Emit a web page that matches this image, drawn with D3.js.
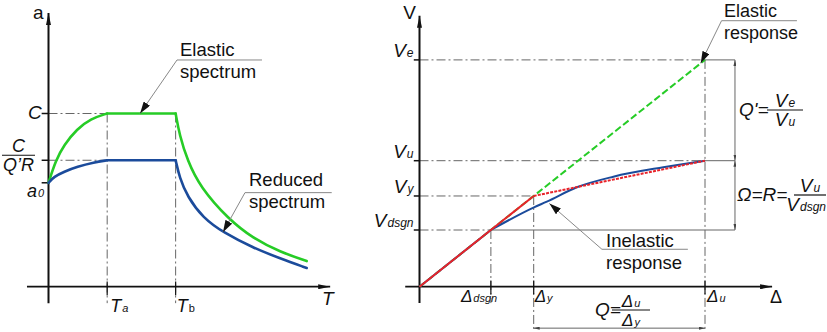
<!DOCTYPE html>
<html>
<head>
<meta charset="utf-8">
<script src="https://cdn.jsdelivr.net/npm/d3@7"></script>
<style>
  body { margin: 0; background: #fff; }
  text { font-family: "Liberation Sans", Arial, sans-serif; fill: #111; }
</style>
</head>
<body>
<div id="viz"></div>
<script>
var width = 827;
var height = 332;

// left chart: acceleration spectrum (T, a)
var periodTicks = [0.6, 1.3];            // Ta, Tb
var periodTickLabels = [["T", "a"], ["T", "b"]];
var accLevels = [1.0, 0.73, 0.6];        // C, C/(Q'R), a0
var elasticRise = [[0, 0.6], [0.074, 0.73], [0.16, 0.82], [0.29, 0.91], [0.43, 0.97], [0.6, 1.0]];
var elasticDecay = [[1.3, 1.0], [1.34, 0.875], [1.42, 0.73], [1.55, 0.575], [1.84, 0.39], [2.09, 0.28], [2.37, 0.2], [2.64, 0.148]];
var reducedRise = [[0, 0.6], [0.056, 0.635], [0.158, 0.664], [0.294, 0.693], [0.465, 0.718], [0.6, 0.73]];
var reducedDecay = [[1.3, 0.73], [1.34, 0.63], [1.42, 0.52], [1.58, 0.397], [1.79, 0.312], [2.09, 0.225], [2.37, 0.163], [2.64, 0.108]];

// right chart: base shear vs displacement
var dispTicks = [25, 40, 100];           // dsgn, y, u
var dispTickLabels = [["Δ", "dsgn"], ["Δ", "y"], ["Δ", "u"]];
var shearLevels = [180, 100, 72, 45];    // Ve, Vu, Vy, Vdsgn
var shearLabels = [["V", "e"], ["V", "u"], ["V", "y"], ["V", "dsgn"]];
var elasticResp = [[0, 0], [100, 180]];
var bilinearResp = [[0, 0], [40, 72], [100, 100]];
var inelasticResp = [[0, 0], [25, 45], [40.1, 63], [44.6, 67.5], [55.1, 78.9], [67.9, 87.3], [85.4, 94.8], [100, 100]];

var green = "#26cc26", blue = "#1b4b9b", red = "#e8232a", grey = "#666", lead = "#888";
var dashDot = "9,3,2,3";

var svg = d3.select("#viz").append("svg")
  .attr("width", width)
  .attr("height", height);

var defs = svg.append("defs");
function marker(id, len, w, col) {
  defs.append("marker")
    .attr("id", id)
    .attr("markerUnits", "userSpaceOnUse")
    .attr("viewBox", "0 0 " + len + " " + (w * 2))
    .attr("refX", len).attr("refY", w)
    .attr("markerWidth", len).attr("markerHeight", w * 2)
    .attr("orient", "auto")
    .append("path")
    .attr("d", "M0,0L" + len + "," + w + "L0," + (w * 2) + "Z")
    .attr("fill", col);
}
marker("axisArrow", 12, 2.5, "#111");
marker("leadArrow", 12, 3.8, "#111");
marker("dimArrow", 6, 1.5, "#444");

function line(g, x1, y1, x2, y2, col, w, dash) {
  return g.append("line")
    .attr("x1", x1).attr("y1", y1).attr("x2", x2).attr("y2", y2)
    .attr("stroke", col).attr("stroke-width", w)
    .attr("stroke-dasharray", dash || null);
}

// symbol with subscript sitting on the baseline
function sym(g, x, y, parts, anchor, size, subItalic) {
  var t = g.append("text")
    .attr("x", x).attr("y", y)
    .attr("text-anchor", anchor || "start")
    .style("font-size", (size || 18) + "px")
    .style("font-style", "italic");
  t.append("tspan").text(parts[0]);
  if (parts[1]) {
    t.append("tspan")
      .style("font-size", Math.round((size || 18) * 0.62) + "px")
      .style("font-style", subItalic === false ? "normal" : "italic")
      .attr("dx", 1)
      .text(parts[1]);
  }
  return t;
}

function frac(g, x1, x2, y, num, den, size, anchor) {
  line(g, x1, y, x2, y, "#111", 1.2);
  var cx = anchor == "end" ? x2 : (x1 + x2) / 2;
  sym(g, (x1 + x2) / 2, y - 3, num, "middle", size);
  sym(g, cx, y + 16, den, anchor || "middle", size);
}

function annot(g, lines, x, y, size) {
  lines.forEach(function(s, i) {
    g.append("text")
      .attr("x", x).attr("y", y + i * 21.5)
      .style("font-size", size + "px")
      .text(s);
  });
}

//////////////// left chart
var xL = d3.scaleLinear().domain([0, 1]).range([48.5, 146.3]);
var yL = d3.scaleLinear().domain([0, 1]).range([286.7, 113.5]);
var left = svg.append("g");

// guide lines
line(left, xL(0), yL(accLevels[0]), xL(periodTicks[0]), yL(accLevels[0]), grey, 1, dashDot);
line(left, xL(0), yL(accLevels[1]), xL(periodTicks[0]), yL(accLevels[1]), grey, 1, dashDot);
periodTicks.forEach(function(t) {
  line(left, xL(t), yL(1), xL(t), yL(-0.095), grey, 1, dashDot);
  line(left, xL(t), yL(0.03), xL(t), yL(-0.05), "#111", 1.2);
});
accLevels.forEach(function(a) {
  line(left, xL(-0.07), yL(a), xL(0), yL(a), "#111", 1.5);
});

// axes
line(left, xL(0), yL(-0.095), xL(0), yL(1.58), "#111", 2).attr("marker-end", "url(#axisArrow)");
line(left, xL(-0.22), yL(0), xL(2.88), yL(0), "#111", 1.8).attr("marker-end", "url(#axisArrow)");

// spectra
var lineL = d3.line().x(function(d) { return xL(d[0]); }).y(function(d) { return yL(d[1]); });
var curveL = d3.line().curve(d3.curveBasis).x(function(d) { return xL(d[0]); }).y(function(d) { return yL(d[1]); });
[[elasticRise, elasticDecay, green], [reducedRise, reducedDecay, blue]].forEach(function(c) {
  var rise = c[0], decay = c[1];
  var plateau = [rise[rise.length - 1], decay[0]];
  left.append("path").attr("d", curveL(rise));
  left.append("path").attr("d", lineL(plateau));
  left.append("path").attr("d", curveL(decay));
  left.selectAll("path:not([stroke])")
    .attr("fill", "none").attr("stroke", c[2]).attr("stroke-width", 2.6)
    .attr("stroke-linecap", "round").attr("stroke-linejoin", "round");
});

// labels
left.append("text").attr("x", 33).attr("y", 19).style("font-size", "19px").text("a");
sym(left, 322, 305, ["T"], "start", 19);
sym(left, xL(periodTicks[0]) + 3, 312, periodTickLabels[0], "start", 18);
sym(left, xL(periodTicks[1]) + 1, 312, periodTickLabels[1], "start", 18, false);
sym(left, xL(-0.07), yL(accLevels[0]) + 5, ["C"], "end", 19);
frac(left, 2, 35, yL(accLevels[1]) - 5, ["C"], ["Q’R"], 18);
sym(left, 27, yL(accLevels[2]) + 14, ["a", "0"], "start", 18);

// call-outs
line(left, xL(1.314), yL(1.309), xL(2.183), yL(1.309), lead, 1);
line(left, xL(1.314), yL(1.309), xL(0.936), yL(1.0), lead, 1).attr("marker-end", "url(#leadArrow)");
annot(left, ["Elastic", "spectrum"], 180, 56, 18.5);
line(left, xL(2.009), yL(0.543), xL(2.896), yL(0.543), lead, 1);
line(left, xL(2.009), yL(0.543), xL(1.784), yL(0.315), lead, 1).attr("marker-end", "url(#leadArrow)");
annot(left, ["Reduced", "spectrum"], 249, 186, 18.5);

//////////////// right chart
var xR = d3.scaleLinear().domain([0, 100]).range([419.5, 705]);
var yR = d3.scaleLinear().domain([0, 100]).range([286.7, 160.7]);
var right = svg.append("g");
var dimX = 110.5, dimY = -32.9;

// guide lines
var vTo = [dispTicks[2], dispTicks[2], dispTicks[1], dispTicks[0]];
shearLevels.forEach(function(v, i) {
  line(right, xR(-2), yR(v), xR(0), yR(v), "#111", 1.5);
  line(right, xR(0), yR(v), xR(vTo[i]), yR(v), grey, 1, dashDot);
  if (i != 2) line(right, xR(vTo[i]), yR(v), xR(dimX), yR(v), grey, 1);
});
line(right, xR(dispTicks[0]), yR(shearLevels[3]), xR(dispTicks[0]), yR(-13), grey, 1, dashDot);
line(right, xR(dispTicks[1]), yR(shearLevels[2]), xR(dispTicks[1]), yR(-34.4), grey, 1, dashDot);
line(right, xR(dispTicks[2]), yR(shearLevels[0]), xR(dispTicks[2]), yR(-34.4), grey, 1, dashDot);
dispTicks.forEach(function(d) {
  line(right, xR(d), yR(5), xR(d), yR(-6), "#111", 1.2);
});

// dimension lines
line(right, xR(dimX), yR(shearLevels[0]), xR(dimX), yR(shearLevels[3]), grey, 1);
[[shearLevels[1], shearLevels[0]], [shearLevels[1], shearLevels[3]]].forEach(function(p) {
  var m = (yR(p[0]) + yR(p[1])) / 2;
  line(right, xR(dimX), m, xR(dimX), yR(p[0]), "none", 1).attr("marker-end", "url(#dimArrow)");
  line(right, xR(dimX), m, xR(dimX), yR(p[1]), "none", 1).attr("marker-end", "url(#dimArrow)");
});
line(right, xR(dispTicks[1]), yR(dimY), xR(dispTicks[2]), yR(dimY), grey, 1);
var mx = (xR(dispTicks[1]) + xR(dispTicks[2])) / 2;
line(right, mx, yR(dimY), xR(dispTicks[1]), yR(dimY), "none", 1).attr("marker-end", "url(#dimArrow)");
line(right, mx, yR(dimY), xR(dispTicks[2]), yR(dimY), "none", 1).attr("marker-end", "url(#dimArrow)");

// axes
line(right, xR(0), yR(-13), xR(0), yR(215), "#111", 2).attr("marker-end", "url(#axisArrow)");
line(right, xR(-5), yR(0), xR(123.5), yR(0), "#111", 1.8).attr("marker-end", "url(#axisArrow)");

// responses
var lineR = d3.line().x(function(d) { return xR(d[0]); }).y(function(d) { return yR(d[1]); });
var curveR = d3.line().curve(d3.curveMonotoneX).x(function(d) { return xR(d[0]); }).y(function(d) { return yR(d[1]); });
right.append("path").attr("d", lineR(elasticResp))
  .attr("fill", "none").attr("stroke", green).attr("stroke-width", 2).attr("stroke-dasharray", "7,3");
right.append("path").attr("d", lineR(inelasticResp.slice(0, 2)))
  .attr("fill", "none").attr("stroke", blue).attr("stroke-width", 2);
right.append("path").attr("d", curveR(inelasticResp.slice(1)))
  .attr("fill", "none").attr("stroke", blue).attr("stroke-width", 2);
right.append("path").attr("d", lineR(bilinearResp.slice(0, 2)))
  .attr("fill", "none").attr("stroke", red).attr("stroke-width", 2);
right.append("path").attr("d", lineR(bilinearResp.slice(1)))
  .attr("fill", "none").attr("stroke", red).attr("stroke-width", 2).attr("stroke-dasharray", "3,1.2");

// labels
right.append("text").attr("x", 416).attr("y", 19).attr("text-anchor", "end").style("font-size", "19px").text("V");
right.append("text").attr("x", 770).attr("y", 303).style("font-size", "18px").text("Δ");
shearLevels.forEach(function(v, i) {
  sym(right, xR(0) - 6, yR(v) - 3, shearLabels[i], "end", 19);
});
var dx = [-30, 1, 2];
dispTicks.forEach(function(d, i) {
  sym(right, xR(d) + dx[i], 302, dispTickLabels[i], "start", 17);
});

// formulas
sym(right, 739, 116, ["Q'="], "start", 19);
frac(right, 767, 803, 110, ["V", "e"], ["V", "u"], 19);
sym(right, 737, 201, ["Ω=R="], "start", 19);
frac(right, 794, 826, 195, ["V", "u"], ["V", "dsgn"], 19, "end");
sym(right, 595, 316, ["Q="], "start", 19);
frac(right, 612, 650, 310, ["Δ", "u"], ["Δ", "y"], 17);

// call-outs
line(right, xR(105.8), yR(211.1), xR(132.2), yR(211.1), lead, 1);
line(right, xR(105.8), yR(211.1), xR(98.5), yR(177.3), lead, 1).attr("marker-end", "url(#leadArrow)");
annot(right, ["Elastic", "response"], 724, 17, 18);
line(right, xR(63.9), yR(29.7), xR(94), yR(29.7), lead, 1);
line(right, xR(63.9), yR(29.7), xR(45.5), yR(66), lead, 1).attr("marker-end", "url(#leadArrow)");
annot(right, ["Inelastic", "response"], 606, 247, 18.5);
</script>
</body>
</html>
